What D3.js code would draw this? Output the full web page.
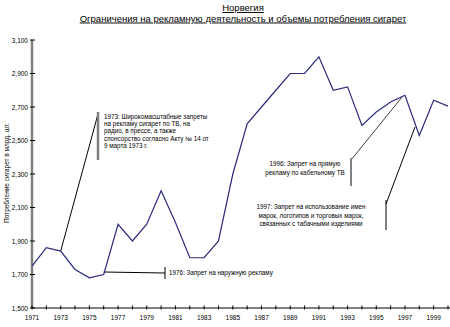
<!DOCTYPE html>
<html><head><meta charset="utf-8">
<script src="https://cdn.jsdelivr.net/npm/d3@7"></script>
<style>
body{margin:0;background:#fff;}
svg{display:block;font-family:"Liberation Sans",Arial,sans-serif;}
</style></head>
<body><svg id="chart" width="450" height="327"></svg>
<script>
const years = d3.range(1971, 2001);
const consumption = [1750,1860,1840,1730,1680,1700,2000,1900,2000,2200,2010,1800,1800,1900,2300,2600,2700,2800,2900,2900,3000,2800,2820,2590,2670,2730,2770,2530,2740,2705];
const yTicks = [1500,1700,1900,2100,2300,2500,2700,2900,3100];
const xLabelYears = d3.range(1971, 2000, 2);
const titleLines = ["Норвегия", "Ограничения на рекламную деятельность и объемы потребления сигарет"];
const yLabel = "Потребление сигарет в млрд. шт.";
const note1973 = ["1973: Широкомасштабные запреты","на рекламу сигарет по ТВ, на","радио, в прессе, а также","спонсорство согласно Акту № 14 от","9 марта 1973 г."];
const note1976 = ["1976: Запрет на наружную рекламу"];
const note1996 = ["1996: Запрет на прямую","рекламу по кабельному ТВ"];
const note1997 = ["1997: Запрет на использование имен","марок, логотипов и торговых марок,","связанных с табачными изделиями"];

const svg = d3.select("#chart");
const x = d3.scaleLinear().domain([1971, 2000]).range([32, 448]);
const y = d3.scaleLinear().domain([1500, 3100]).range([308, 40]);
const data = years.map((yr, i) => ({yr, v: consumption[i]}));

// Title
svg.selectAll("text.title").data(titleLines).enter().append("text")
  .attr("class","title").attr("x", 243).attr("y", (d,i) => 11 + i*10.5)
  .attr("text-anchor","middle").attr("font-size", 9.5).attr("fill","#000")
  .attr("text-decoration","underline").text(d => d);

// Y axis
const yAxis = svg.append("g");
yAxis.append("line").attr("x1", x(1971)).attr("x2", x(1971)).attr("y1", y(3100)).attr("y2", y(1500))
  .attr("stroke","#808080").attr("stroke-width",2.5);
yAxis.selectAll("line.t").data(yTicks).enter().append("line")
  .attr("x1", x(1971)-2).attr("x2", x(1971)+3).attr("y1", d=>y(d)).attr("y2", d=>y(d))
  .attr("stroke","#000").attr("stroke-width",1);
const fmt = d3.format(",");
yAxis.selectAll("text").data(yTicks).enter().append("text")
  .attr("x", x(1971)-4).attr("y", d=>y(d)+2.5).attr("text-anchor","end")
  .attr("font-size",6.5).attr("fill","#000").text(d=>fmt(d));

// X axis
const xAxis = svg.append("g");
xAxis.append("line").attr("x1", x(1971)).attr("x2", 450).attr("y1", y(1500)).attr("y2", y(1500))
  .attr("stroke","#000").attr("stroke-width",1);
xAxis.selectAll("line.t").data(years).enter().append("line")
  .attr("x1", d=>x(d)).attr("x2", d=>x(d)).attr("y1", y(1500)-2.5).attr("y2", y(1500)+1.5)
  .attr("stroke","#000").attr("stroke-width",1);
xAxis.selectAll("text").data(xLabelYears).enter().append("text")
  .attr("x", d=>x(d)).attr("y", y(1500)+12).attr("text-anchor","middle")
  .attr("font-size",6.5).attr("fill","#000").text(d=>d);

// Y label
svg.append("text").attr("transform","translate(9,173) rotate(-90)")
  .attr("text-anchor","middle").attr("font-size",6.5).attr("fill","#000").text(yLabel);

// Annotation connector lines
const ann = svg.append("g");
// 1973
ann.append("line").attr("x1", x(1973)).attr("y1", y(1840)).attr("x2", 98).attr("y2", 114)
  .attr("stroke","#000").attr("stroke-width",1);
ann.append("line").attr("x1", 98).attr("x2", 98).attr("y1", 112).attr("y2", 160)
  .attr("stroke","#808080").attr("stroke-width",2.5);
// 1976
ann.append("line").attr("x1", x(1976)).attr("y1", 272).attr("x2", 165).attr("y2", 273)
  .attr("stroke","#000").attr("stroke-width",1);
ann.append("line").attr("x1", 165).attr("x2", 165).attr("y1", 267).attr("y2", 279)
  .attr("stroke","#000").attr("stroke-width",1);
// 1996
ann.append("line").attr("x1", 351).attr("y1", 160).attr("x2", x(1996.85)).attr("y2", y(2765))
  .attr("stroke","#404040").attr("stroke-width",1);
ann.append("line").attr("x1", 351).attr("x2", 351).attr("y1", 158).attr("y2", 186)
  .attr("stroke","#808080").attr("stroke-width",2);
// 1997
ann.append("line").attr("x1", 386).attr("y1", 204).attr("x2", 415).attr("y2", 127)
  .attr("stroke","#000").attr("stroke-width",1);
ann.append("line").attr("x1", 386).attr("x2", 386).attr("y1", 200).attr("y2", 230)
  .attr("stroke","#000").attr("stroke-width",1);

// Data line
svg.append("path").datum(data)
  .attr("d", d3.line().x(d=>x(d.yr)).y(d=>y(d.v)))
  .attr("fill","none").attr("stroke","#2b2b7a").attr("stroke-width",1.2);

// Annotation texts
function block(lines, x0, y0, lh, anchor){
  svg.append("g").selectAll("text").data(lines).enter().append("text")
    .attr("x", x0).attr("y", (d,i)=>y0+i*lh).attr("text-anchor", anchor||"start")
    .attr("font-size",6.3).attr("fill","#000").text(d=>d);
}
block(note1973, 104, 119, 7.2);
block(note1976, 169, 275, 7);
block(note1996, 305, 166, 9, "middle");
block(note1997, 311, 209, 8.5, "middle");
</script></body></html>
